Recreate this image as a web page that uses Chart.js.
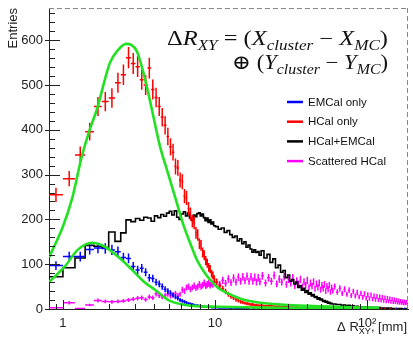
<!DOCTYPE html>
<html>
<head>
<meta charset="utf-8">
<script src="https://cdn.jsdelivr.net/npm/chart.js@4.4.1/dist/chart.umd.min.js"></script>
<style>
  html, body { margin: 0; padding: 0; background: #fff; }
</style>
</head>
<body>
<canvas id="chart" width="413" height="337"></canvas>
<script>
// bin centres in mm (0.2 mm bins up to 10, coarser above)
const binCenters = [
  0.9, 1.1, 1.3, 1.5, 1.7, 1.9, 2.1, 2.3, 2.5, 2.7, 2.9, 3.1, 3.3, 3.5, 3.7, 3.9, 4.1, 4.3, 4.5, 4.7,
  4.9, 5.1, 5.3, 5.5, 5.7, 5.9, 6.1, 6.3, 6.5, 6.7, 6.9, 7.1, 7.3, 7.5, 7.7, 7.9, 8.1, 8.3, 8.5, 8.7,
  8.9, 9.1, 9.3, 9.5, 9.7, 9.9,
  10.25, 10.75, 11.25, 11.75, 12.25, 12.75, 13.25, 13.75, 14.25, 14.75, 15.25, 15.75, 16.25, 16.75,
  17.25, 17.75, 18.25, 18.75, 19.25, 19.75,
  20.5, 21.5, 22.5, 23.5, 24.5, 25.5, 26.5, 27.5, 28.5, 29.5, 30.5, 31.5, 32.5, 33.5, 34.5, 35.5,
  36.5, 37.5, 38.5, 39.5, 40.5, 41.5, 42.5, 43.5, 44.5, 45.5, 46.5, 47.5, 48.5, 49.5, 50.5, 51.5,
  52.5, 53.5, 54.5, 55.5, 56.5, 57.5, 58.5, 59.5,
  61.25, 63.75, 66.25, 68.75, 71.25, 73.75, 76.25, 78.75, 81.25, 83.75, 86.25, 88.75, 91.25, 93.75,
  96.25, 98.75, 101.25, 103.75, 106.25, 108.75, 111.25, 113.75, 116.25, 118.75, 121.25, 123.75,
  126.25, 128.75, 131.25, 133.75, 136.25, 138.75, 141.25, 143.75, 146.25, 148.75, 151.25, 153.75,
  156.25, 158.75, 161.25, 163.75, 166.25, 168.75, 171.25, 173.75, 176.25, 178.75, 181.25, 183.75
];

const emcalOnly = [
  97, 117, 117, 133, 136, 135, 132, 128, 115, 113, 95, 87, 91, 82, 70, 68, 60, 56, 50, 44,
  40, 36, 31, 27, 24, 20, 18, 16, 14, 12, 11, 10, 9, 8, 8, 7, 6, 6, 5, 5,
  4, 4, 4, 3, 3, 3,
  3, 2, 2, 2, 2, 1, 2, 1, 1, 1, 1, 1, 1, 1, 0, 1, 1, 0, 1, 0,
  1, 0, 1, 0, 0, 1, 0, 0, 1, 0, 0, 0, 1, 0, 0, 0, 0, 0, 1, 0,
  0, 0, 0, 0, 0, 1, 0, 0, 0, 0, 0, 0, 0, 0, 0, 0, 0, 0, 0, 0,
  0, 0, 0, 0, 0, 0, 0, 0, 0, 0, 0, 0, 0, 0, 0, 0, 0, 0, 0, 0,
  0, 1, 0, 0, 0, 0, 0, 0, 0, 0, 0, 0, 0, 0, 0, 0, 0, 0, 1, 0,
  0, 0, 0, 0, 0, 0, 1, 0, 0, 0
];

const hcalOnly = [
  255, 291, 344, 396, 452, 463, 471, 505, 523, 561, 548, 541, 512, 500, 538, 490, 472, 452, 428, 410,
  385, 362, 350, 318, 315, 288, 284, 252, 248, 224, 212, 196, 192, 170, 165, 146, 142, 126, 120, 108,
  102, 93, 89, 79, 75, 67,
  60, 52, 45, 39, 33, 28, 25, 21, 19, 16, 15, 13, 12, 11, 10, 10, 9, 9, 8, 8,
  8, 7, 7, 7, 6, 6, 6, 5, 5, 5, 5, 4, 4, 4, 4, 4, 3, 3, 3, 3,
  3, 3, 3, 3, 2, 2, 2, 2, 2, 2, 2, 2, 2, 2, 2, 1, 2, 1, 2, 1,
  2, 1, 2, 1, 1, 1, 2, 1, 1, 1, 1, 1, 1, 0, 1, 1, 0, 1, 1, 0,
  1, 0, 1, 0, 0, 1, 0, 0, 1, 0, 0, 0, 1, 0, 0, 0, 0, 1, 0, 0,
  0, 0, 0, 0, 0, 0, 0, 0, 0, 0
];

const hcalEmcal = [
  72, 92, 114, 142, 140, 137, 172, 151, 170, 199, 195, 202, 198, 205, 203, 196, 208, 204, 211, 207,
  214, 218, 210, 219, 205, 200, 212, 217, 208, 214, 203, 198, 210, 206, 213, 215, 208, 212, 204, 197,
  203, 193, 199, 190, 194, 186,
  184, 178, 181, 171, 175, 166, 160, 163, 152, 157, 146, 150, 138, 143, 134, 127, 132, 126, 128, 120,
  130, 114, 122, 104, 112, 92, 98, 82, 86, 70, 76, 62, 66, 56, 60, 48, 52, 42, 46, 37,
  41, 33, 36, 29, 32, 26, 28, 22, 25, 20, 22, 17, 19, 15, 17, 13, 15, 12, 13, 11,
  11, 10, 10, 8, 9, 7, 8, 6, 7, 5, 6, 5, 5, 4, 5, 4, 4, 3, 4, 3,
  3, 3, 3, 2, 3, 2, 2, 2, 2, 2, 1, 2, 1, 2, 1, 1, 1, 1, 1, 1,
  1, 0, 1, 1, 0, 1, 0, 1, 0, 0
];

const scatteredHcal = [
  3, 14, 1, 9, 19, 17, 16, 17, 18, 20, 22, 24, 25, 21, 27, 25, 34, 30, 27, 30,
  33, 29, 31, 35, 30, 33, 43, 40, 48, 50, 44, 48, 52, 47, 50, 55, 50, 53, 58, 52,
  55, 57, 53, 58, 55, 60,
  60, 55, 64, 57, 67, 59, 69, 60, 71, 62, 72, 63, 73, 62, 72, 62, 71, 60, 70, 61,
  74, 58, 70, 62, 75, 56, 67, 60, 72, 55, 66, 58, 70, 52, 63, 56, 66, 50, 61, 53,
  64, 48, 58, 51, 61, 45, 56, 48, 58, 43, 53, 46, 55, 40, 51, 44, 53, 38, 48, 41,
  50, 38, 46, 35, 44, 33, 42, 30, 39, 29, 37, 27, 35, 26, 34, 24, 32, 23, 31, 22,
  29, 21, 28, 20, 27, 19, 26, 18, 25, 17, 24, 17, 23, 16, 22, 15, 21, 15, 20, 14,
  19, 13, 18, 13, 17, 12, 17, 12, 16, 11
];

// fitted curves
const fitHcalX = [0.81, 1.0, 1.15, 1.33, 1.5, 1.67, 2.04, 2.3, 2.6, 2.8, 3.07, 3.4, 3.85, 4.35, 4.9, 5.6, 6.2, 7.0, 7.6, 8.4, 9.3, 10.5, 12, 15.3, 19.8, 30, 50, 80, 120];
const fitHcalY = [115, 184, 247, 340, 400, 445, 550, 578, 592, 590, 575, 525, 445, 363, 304, 238, 188, 140, 110, 85, 65, 47, 36, 21, 14, 9, 6, 4, 3];
const fitEmcalX = [0.81, 1.03, 1.25, 1.55, 1.89, 2.3, 2.84, 3.46, 4.03, 5.06, 7.16, 10.3, 20, 50, 120];
const fitEmcalY = [60, 95, 132, 148, 139, 117, 88, 59, 43, 18, 7, 5, 3, 2, 1];

const yTicks = [0, 100, 200, 300, 400, 500, 600];
const xTicks = [1, 10, 100];
const xTickLabels = { 1: '1', 10: '10', 100: '10²' };
const xMinorTicks = [0.9, 2, 3, 4, 5, 6, 7, 8, 9, 20, 30, 40, 50, 60, 70, 80, 90];

const legendLabels = ['EMCal only', 'HCal only', 'HCal+EMCal', 'Scattered HCal'];
const legendColors = ['#0000ff', '#ff0000', '#000000', '#ff00ff'];

const formulaLine1 = [['Δ', 'n'], ['R', 'i'], ['XY', 's'], [' = (', 'n'], ['X', 'i'], ['cluster', 's'], [' − ', 'n'], ['X', 'i'], ['MC', 's'], [')', 'n']];
const formulaLine2 = [['⊕ (', 'n'], ['Y', 'i'], ['cluster', 's'], [' − ', 'n'], ['Y', 'i'], ['MC', 's'], [')', 'n']];
const xTitle = [['Δ R', 'n'], ['XY', 's'], [', [mm]', 'n']];

const SANS = '"Liberation Sans", Arial, Helvetica, sans-serif';
const SERIF = '"Liberation Serif", "DejaVu Serif", serif';

function lowEdge(i) {
  return i === 0 ? binCenters[0] - (binCenters[1] - binCenters[0]) / 2 : (binCenters[i - 1] + binCenters[i]) / 2;
}
function highEdge(i) {
  const n = binCenters.length;
  return i === n - 1 ? binCenters[n - 1] + (binCenters[n - 1] - binCenters[n - 2]) / 2 : (binCenters[i] + binCenters[i + 1]) / 2;
}
function errorBins(values) {
  return values.map((v, i) => ({ c: binCenters[i], v: v, lo: lowEdge(i), hi: highEdge(i) })).filter(b => b.v > 0);
}
function stepPoints(values) {
  const pts = [];
  values.forEach((v, i) => {
    pts.push({ x: lowEdge(i), y: v });
    pts.push({ x: highEdge(i), y: v });
  });
  return pts;
}
function curve(xs, ys) {
  return xs.map((x, i) => ({ x: x, y: ys[i] }));
}

function errorDataset(label, values, color) {
  const bins = errorBins(values);
  return {
    label: label,
    data: bins.map(b => ({ x: b.c, y: b.v })),
    errorBins: bins,
    borderColor: color,
    showLine: false,
    pointRadius: 0,
    barWidth: 1.5
  };
}

const errorBarPlugin = {
  id: 'errorBars',
  afterDatasetDraw(chart, args) {
    const ds = chart.data.datasets[args.index];
    if (!ds.errorBins) return;
    const { ctx, chartArea: a, scales: { x, y } } = chart;
    ctx.save();
    ctx.beginPath();
    ctx.rect(a.left, a.top, a.right - a.left, a.bottom - a.top);
    ctx.clip();
    ctx.strokeStyle = ds.borderColor;
    ctx.lineWidth = ds.barWidth;
    ctx.beginPath();
    ds.errorBins.forEach(b => {
      const py = y.getPixelForValue(b.v);
      const e = Math.sqrt(b.v);
      const px = x.getPixelForValue(b.c);
      ctx.moveTo(x.getPixelForValue(b.lo), py);
      ctx.lineTo(x.getPixelForValue(b.hi), py);
      ctx.moveTo(px, y.getPixelForValue(b.v - e));
      ctx.lineTo(px, y.getPixelForValue(b.v + e));
    });
    ctx.stroke();
    ctx.restore();
  }
};

// rich text with subscripts; if fitWidth is given the line is stretched to that width
function drawRich(ctx, parts, rightX, baseline, size, family, italicMain, fitWidth) {
  const fontFor = k => {
    if (k === 's') return (italicMain ? 'italic ' : '') + (size * 0.7) + 'px ' + family;
    if (k === 'i') return 'italic ' + size + 'px ' + family;
    return size + 'px ' + family;
  };
  let w = 0;
  parts.forEach(([t, k]) => { ctx.font = fontFor(k); w += ctx.measureText(t).width; });
  const sx = fitWidth ? fitWidth / w : 1;
  ctx.save();
  ctx.translate(rightX - w * sx, baseline);
  ctx.scale(sx, 1);
  let x = 0;
  parts.forEach(([t, k]) => {
    ctx.font = fontFor(k);
    ctx.fillText(t, x, k === 's' ? size * 0.25 : 0);
    x += ctx.measureText(t).width;
  });
  ctx.restore();
}

const decorPlugin = {
  id: 'decor',
  afterDraw(chart) {
    const { ctx, chartArea: a, scales: { x, y } } = chart;
    ctx.save();
    // dashed top and right frame
    ctx.strokeStyle = '#888';
    ctx.lineWidth = 1;
    ctx.setLineDash([5, 3]);
    ctx.beginPath();
    ctx.moveTo(a.left, a.top + 0.5);
    ctx.lineTo(a.right, a.top + 0.5);
    ctx.moveTo(a.right - 0.5, a.top);
    ctx.lineTo(a.right - 0.5, a.bottom);
    ctx.stroke();
    ctx.setLineDash([]);

    // tick marks
    ctx.strokeStyle = '#222';
    ctx.beginPath();
    yTicks.forEach(v => {
      const py = Math.round(y.getPixelForValue(v)) + 0.5;
      ctx.moveTo(a.left - 4, py);
      ctx.lineTo(a.left + 11, py);
    });
    for (let v = 20; v < y.max; v += 20) {
      if (v % 100 === 0) continue;
      const py = Math.round(y.getPixelForValue(v)) + 0.5;
      ctx.moveTo(a.left, py);
      ctx.lineTo(a.left + 6, py);
    }
    xTicks.forEach(v => {
      const px = Math.round(x.getPixelForValue(v)) + 0.5;
      ctx.moveTo(px, a.bottom);
      ctx.lineTo(px, a.bottom - 9);
    });
    xMinorTicks.forEach(v => {
      const px = Math.round(x.getPixelForValue(v)) + 0.5;
      ctx.moveTo(px, a.bottom);
      ctx.lineTo(px, a.bottom - 5);
    });
    ctx.stroke();

    // legend
    ctx.font = '11.5px ' + SANS;
    ctx.textBaseline = 'middle';
    legendLabels.forEach((lab, i) => {
      const ly = 102 + i * 19.7;
      ctx.strokeStyle = legendColors[i];
      ctx.lineWidth = 2.5;
      ctx.beginPath();
      ctx.moveTo(287, ly);
      ctx.lineTo(303, ly);
      ctx.stroke();
      ctx.fillStyle = '#111';
      ctx.fillText(lab, 308, ly + 0.5);
    });

    // formula
    ctx.textBaseline = 'alphabetic';
    ctx.fillStyle = '#111';
    drawRich(ctx, formulaLine1, 388, 45, 20, SERIF, true, 221);
    drawRich(ctx, formulaLine2, 388, 69, 20, SERIF, true, 156);

    // x axis title
    ctx.fillStyle = '#222';
    drawRich(ctx, xTitle, 407, 331, 13, SANS, false);
    ctx.restore();
  }
};

const ctx = document.getElementById('chart');
new Chart(ctx, {
  type: 'line',
  data: {
    datasets: [
      {
        label: 'fit HCal',
        data: curve(fitHcalX, fitHcalY),
        borderColor: '#22e022',
        borderWidth: 2.6,
        pointRadius: 0,
        cubicInterpolationMode: 'monotone'
      },
      {
        label: 'fit EMCal',
        data: curve(fitEmcalX, fitEmcalY),
        borderColor: '#22e022',
        borderWidth: 2.6,
        pointRadius: 0,
        cubicInterpolationMode: 'monotone'
      },
      errorDataset(legendLabels[1], hcalOnly, legendColors[1]),
      errorDataset(legendLabels[0], emcalOnly, legendColors[0]),
      {
        label: legendLabels[2],
        data: stepPoints(hcalEmcal),
        borderColor: legendColors[2],
        borderWidth: 1.6,
        pointRadius: 0,
        tension: 0
      },
      errorDataset(legendLabels[3], scatteredHcal, legendColors[3])
    ]
  },
  options: {
    responsive: false,
    animation: false,
    events: [],
    layout: { padding: { left: 0, right: 5, top: 8, bottom: 0 } },
    scales: {
      x: {
        type: 'logarithmic',
        min: 0.81,
        max: 186,
        grid: { display: false, drawTicks: false },
        border: { display: true, color: '#222', width: 1 },
        afterBuildTicks: s => { s.ticks = xTicks.map(v => ({ value: v })); },
        afterFit: s => { s.height = 28; s.paddingLeft = 0; s.paddingRight = 0; },
        ticks: {
          autoSkip: false,
          maxRotation: 0,
          padding: 7,
          color: '#222',
          font: { family: SANS, size: 13 },
          callback: v => xTickLabels[v] || ''
        }
      },
      y: {
        min: 0,
        max: 672,
        grid: { display: false, drawTicks: false },
        border: { display: true, color: '#222', width: 1 },
        afterBuildTicks: s => { s.ticks = yTicks.map(v => ({ value: v })); },
        afterFit: s => { s.width = 49; s.paddingTop = 0; s.paddingBottom = 0; },
        ticks: {
          padding: 6,
          color: '#222',
          font: { family: SANS, size: 13 }
        },
        title: {
          display: true,
          text: 'Entries',
          align: 'end',
          color: '#222',
          font: { family: SANS, size: 13 },
          padding: { top: 6, bottom: 0 }
        }
      }
    },
    plugins: {
      legend: { display: false },
      tooltip: { enabled: false }
    }
  },
  plugins: [errorBarPlugin, decorPlugin]
});
</script>
</body>
</html>
